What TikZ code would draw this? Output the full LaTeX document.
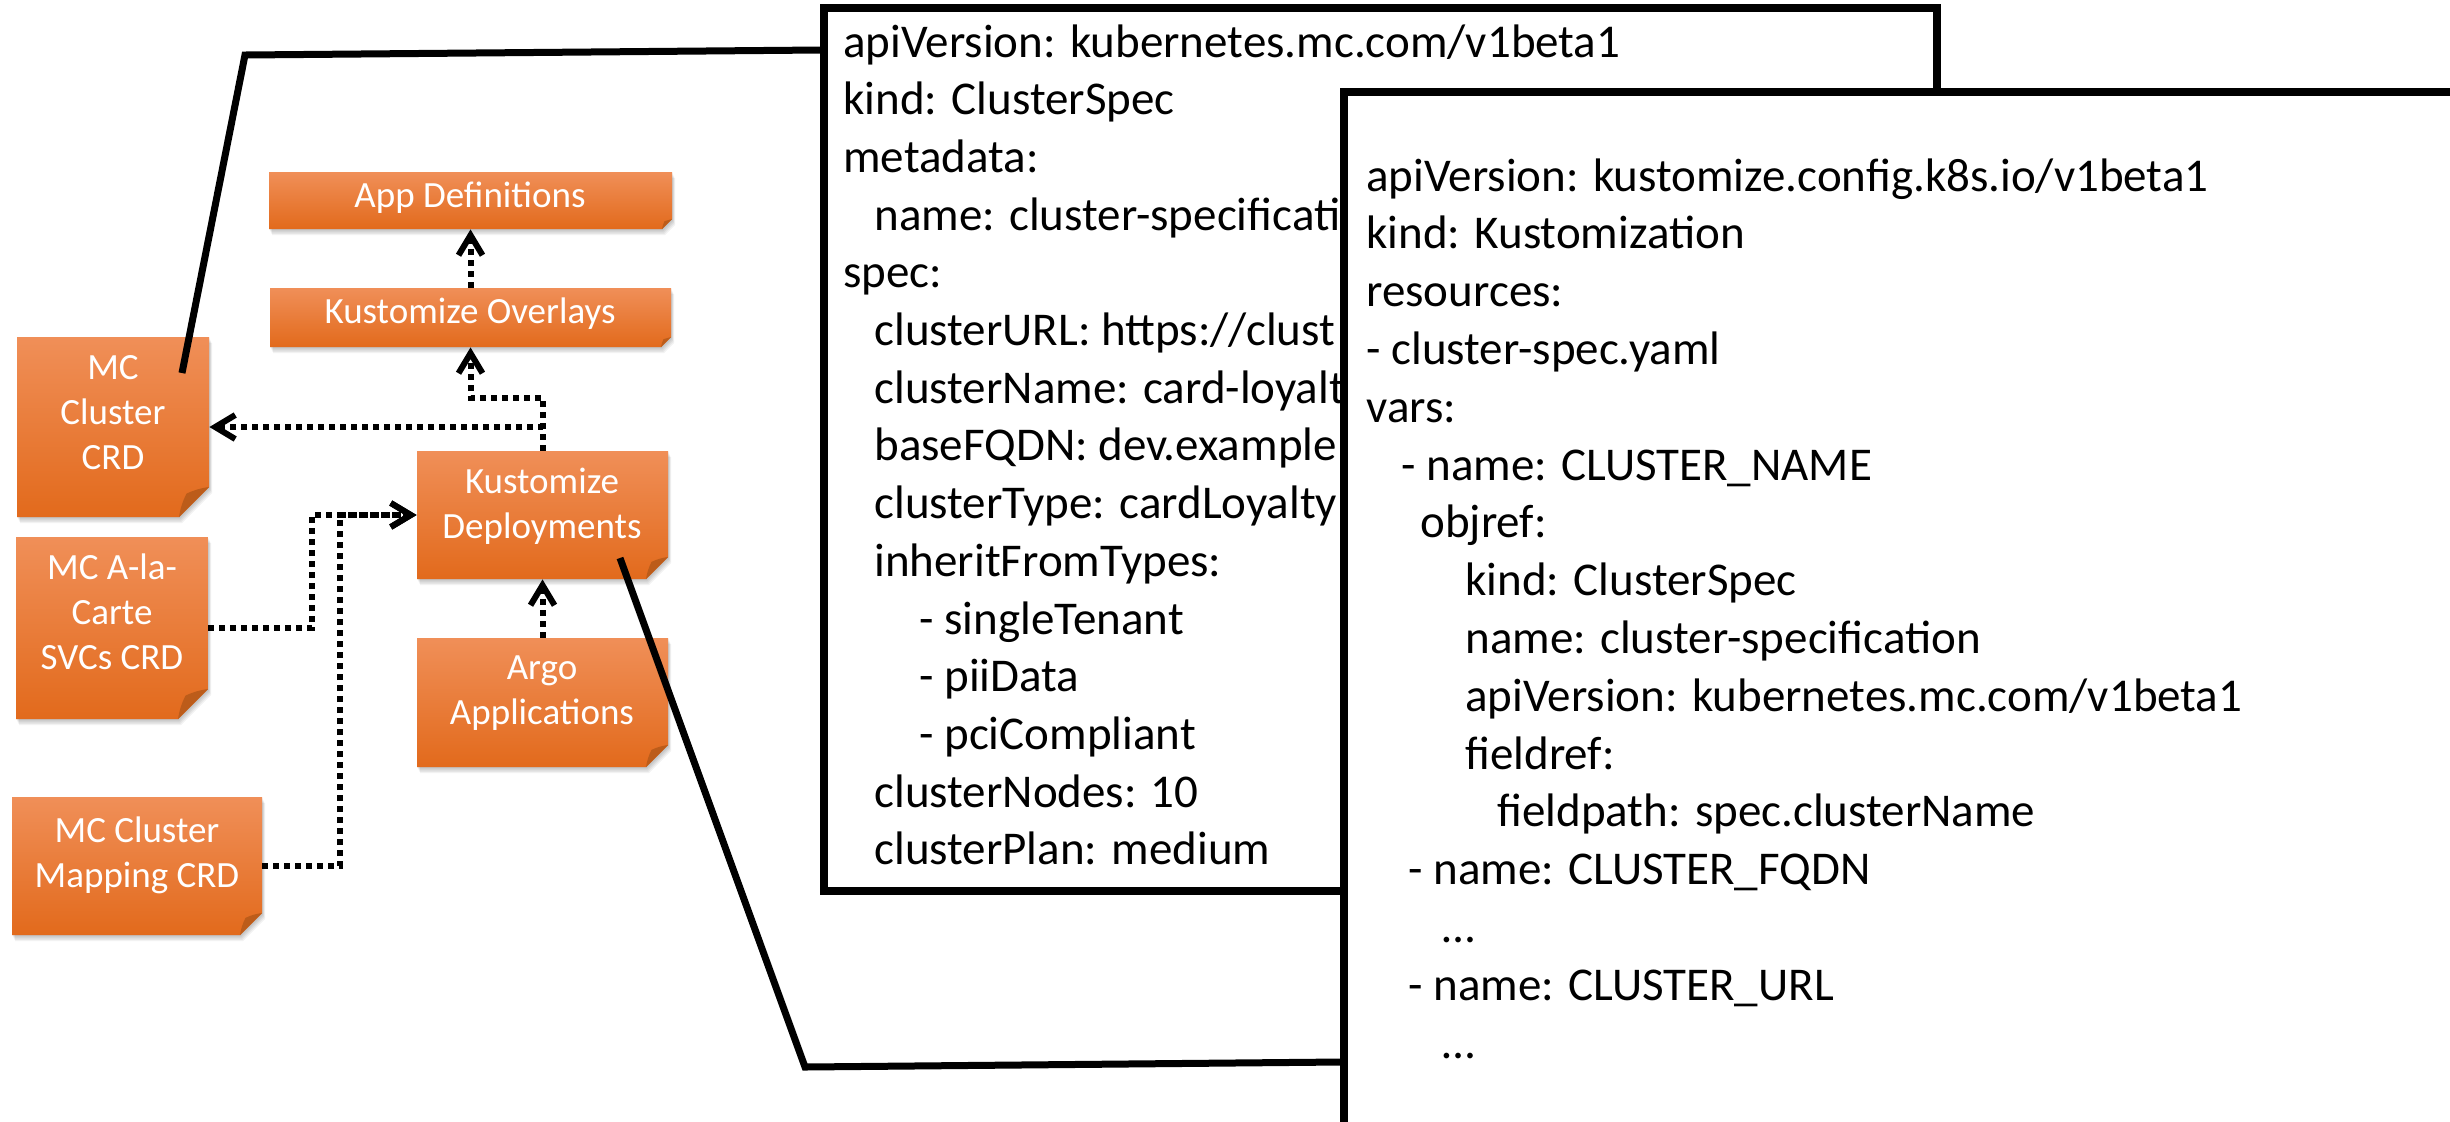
\documentclass[tikz,border=0pt]{standalone}
\usepackage{fontspec}
\setmainfont{Carlito}
\usetikzlibrary{arrows.meta,calc}
\definecolor{otop}{RGB}{240,143,88}
\definecolor{omid}{RGB}{243,127,46}
\definecolor{obot}{RGB}{226,106,28}
\definecolor{foldc}{RGB}{188,92,26}
\newcommand\obox[6]{%
  \foreach \s in {1,...,5}{%
    \fill[black,opacity=0.05] ({#2+0.6*\s},{#3+1.2*\s}) -- ({#4+0.6*\s},{#3+1.2*\s}) -- ({#4+0.6*\s},{#5-#6+1.2*\s}) -- ({#4-#6+0.6*\s},{#5+1.2*\s}) -- ({#2+0.6*\s},{#5+1.2*\s}) -- cycle;}
  \shade[top color=otop, middle color=omid, bottom color=obot] (#2,#3) -- (#4,#3) -- (#4,{#5-#6}) -- ({#4-#6},#5) -- (#2,#5) -- cycle;
  \fill[foldc] ({#4-#6},#5) to[bend left=8] ({#4-0.75*#6},{#5-0.78*#6}) to[bend left=8] (#4,{#5-#6}) -- cycle;
  \node[inner sep=0pt, minimum width={(#4-#2)*0.5pt}, minimum height={(#5-#3)*0.5pt}] (#1) at ({(#2+#4)/2},{(#3+#5)/2}) {};
}
\begin{document}
\begin{tikzpicture}[x=0.5pt,y=-0.5pt,
  codetext/.style={anchor=base west, inner sep=0pt, font=\fontsize{23.5pt}{28.8pt}\selectfont},
  boxtext/.style={text=white, align=center, inner sep=0pt, font=\fontsize{18.5pt}{22.5pt}\selectfont},
  dotarrow/.style={line width=3pt, dash pattern=on 3pt off 2.5pt, -{Straight Barb[length=10pt,width=12pt]}},
  solidline/.style={line width=3.5pt},
  codebox/.style={draw, line width=4pt, fill=white, inner sep=0pt}]
\useasboundingbox (0,0) rectangle (2450,1121);
\fill[white] (0,0) rectangle (2450,1121);

% orange boxes
\obox{appdef}{269}{172}{672}{229}{10}
\obox{ovl}{270}{288}{671}{347}{10}
\obox{mcc}{17}{337}{209}{517}{30}
\obox{dep}{417}{451}{668}{579}{22}
\obox{ala}{16}{537}{208}{719}{30}
\obox{argo}{417}{638}{668}{767}{22}
\obox{map}{12}{797}{262}{935}{22}

\node[boxtext] (tappdef) at (470,198) {App Definitions};
\node[boxtext] (tovl) at (470,314) {Kustomize Overlays};
\node[boxtext] (tmcc) at (113,413) {MC\\Cluster\\CRD};
\node[boxtext] (tdep) at (542,506) {Kustomize\\Deployments};
\node[boxtext] (tala) at (112,612) {MC A-la-\\Carte\\SVCs CRD};
\node[boxtext] (targo) at (542,693) {Argo\\Applications};
\node[boxtext] (tmap) at (137,855) {MC Cluster\\Mapping CRD};

% dotted connectors
\draw[dotarrow] (ovl.north) -- (appdef.south);
\draw[dotarrow] (dep.north) -- ++(0,-53) -| (ovl.south);
\draw[dotarrow] (dep.north) |- (mcc.east);
\draw[dotarrow] (ala.east) -- ++(104,0) |- (dep.west);
\draw[dotarrow] (map.east) -- ++(78,0) |- (dep.west);
\draw[dotarrow] (argo.north) -- (dep.south);

% code box 1
\node[codebox, minimum width={(1937-824)*0.5pt}, minimum height={(891-8)*0.5pt}] (code1) at ({(824+1937)/2},{(8+891)/2}) {};
\node[codetext] (a1) at (843,57) {apiVersion: kubernetes.mc.com/v1beta1};
\node[codetext] (a2) at (843,114.7) {kind: ClusterSpec};
\node[codetext] (a3) at (843,172.4) {metadata:};
\node[codetext] (a4) at (874,230.1) {name: cluster-specificati};
\node[codetext] (a5) at (843,287.8) {spec:};
\node[codetext] (a6) at (874,345.5) {clusterURL: https://clust};
\node[codetext] (a7) at (874,403.2) {clusterName: card-loyalt};
\node[codetext] (a8) at (874,460.9) {baseFQDN: dev.example};
\node[codetext] (a9) at (874,518.6) {clusterType: cardLoyalty};
\node[codetext] (a10) at (874,576.3) {inheritFromTypes:};
\node[codetext] (a11) at (919,634) {- singleTenant};
\node[codetext] (a12) at (919,691.7) {- piiData};
\node[codetext] (a13) at (919,749.4) {- pciCompliant};
\node[codetext] (a14) at (874,807.1) {clusterNodes: 10};
\node[codetext] (a15) at (874,864.8) {clusterPlan: medium};

% code box 2
\node[codebox, minimum width={(2520-1344)*0.5pt}, minimum height={(1180-92)*0.5pt}] (code2) at ({(1344+2520)/2},{(92+1180)/2}) {};
\node[codetext] (b1) at (1366,191) {apiVersion: kustomize.config.k8s.io/v1beta1};
\node[codetext] (b2) at (1366,248.8) {kind: Kustomization};
\node[codetext] (b3) at (1366,306.6) {resources:};
\node[codetext] (b4) at (1366,364.4) {- cluster-spec.yaml};
\node[codetext] (b5) at (1366,422.2) {vars:};
\node[codetext] (b6) at (1401,480) {- name: CLUSTER\_NAME};
\node[codetext] (b7) at (1420,537.8) {objref:};
\node[codetext] (b8) at (1465,595.6) {kind: ClusterSpec};
\node[codetext] (b9) at (1465,653.4) {name: cluster-specification};
\node[codetext] (b10) at (1465,711.2) {apiVersion: kubernetes.mc.com/v1beta1};
\node[codetext] (b11) at (1465,769) {fieldref:};
\node[codetext] (b12) at (1497,826.8) {fieldpath: spec.clusterName};
\node[codetext] (b13) at (1408,884.6) {- name: CLUSTER\_FQDN};
\node[codetext] (b14) at (1442,942.4) {…};
\node[codetext] (b15) at (1408,1000.2) {- name: CLUSTER\_URL};
\node[codetext] (b16) at (1442,1058) {…};

% solid connectors
\coordinate (s1a) at (182,373);
\coordinate (s1b) at (245,55);
\coordinate (s1y) at (0,50);
\draw[solidline] (s1a) -- (s1b) -- (code1.west |- s1y);
\coordinate (s2a) at (620,558);
\coordinate (s2b) at (805,1067);
\coordinate (s2y) at (0,1062);
\draw[solidline] (s2a) -- (s2b) -- (code2.west |- s2y);
\end{tikzpicture}
\end{document}
